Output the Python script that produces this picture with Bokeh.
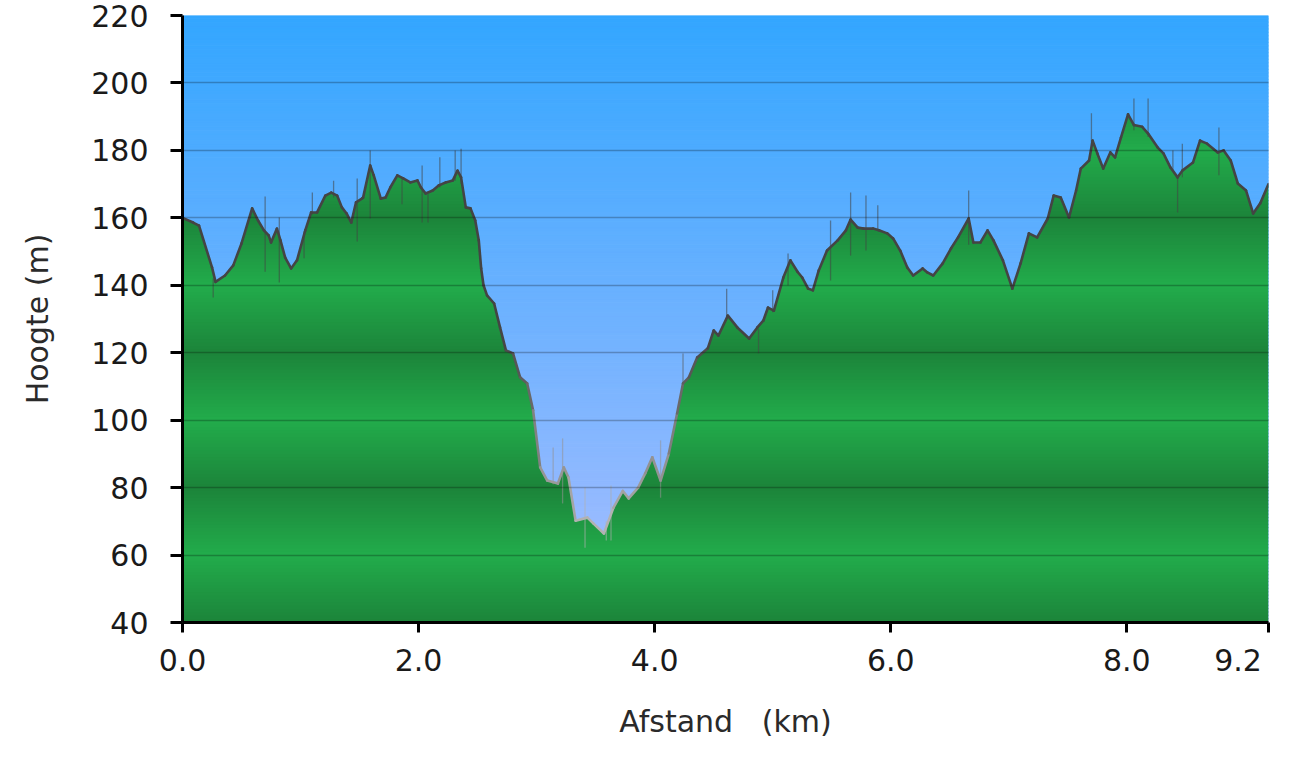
import numpy as np
from bokeh.plotting import figure
from bokeh.models import Range1d, FixedTicker, PrintfTickFormatter
from bokeh.embed import file_html
from bokeh.resources import INLINE

# ---------------- data ----------------
dist_km = [0.00, 0.09, 0.14, 0.25, 0.28, 0.36, 0.43, 0.50, 0.59, 0.64, 0.69, 0.73, 0.75, 0.80, 0.83, 0.87,
           0.92, 0.97, 1.04, 1.09, 1.14, 1.21, 1.26, 1.31, 1.35, 1.39, 1.43, 1.47, 1.52, 1.53, 1.59, 1.62,
           1.68, 1.72, 1.76, 1.82, 1.87, 1.93, 1.99, 2.02, 2.06, 2.12, 2.17, 2.23, 2.29, 2.33, 2.36, 2.40,
           2.44, 2.48, 2.51, 2.53, 2.55, 2.58, 2.64, 2.69, 2.74, 2.80, 2.86, 2.92, 2.97, 3.03, 3.09, 3.18,
           3.23, 3.27, 3.33, 3.43, 3.48, 3.57, 3.65, 3.73, 3.78, 3.86, 3.92, 3.98, 4.05, 4.12, 4.19, 4.24,
           4.29, 4.36, 4.45, 4.50, 4.54, 4.62, 4.70, 4.80, 4.87, 4.92, 4.96, 5.01, 5.09, 5.15, 5.21, 5.25,
           5.30, 5.34, 5.39, 5.46, 5.55, 5.62, 5.66, 5.72, 5.77, 5.85, 5.90, 5.97, 6.02, 6.08, 6.14, 6.19,
           6.27, 6.31, 6.36, 6.44, 6.51, 6.57, 6.66, 6.70, 6.76, 6.82, 6.87, 6.95, 7.03, 7.10, 7.17, 7.24,
           7.33, 7.38, 7.44, 7.51, 7.57, 7.61, 7.68, 7.71, 7.75, 7.80, 7.86, 7.90, 7.95, 8.01, 8.06, 8.13,
           8.18, 8.26, 8.31, 8.37, 8.43, 8.47, 8.56, 8.62, 8.68, 8.77, 8.82, 8.88, 8.94, 9.01, 9.07, 9.13,
           9.20]
elev_m = [160.0, 158.6, 157.7, 145.3, 141.0, 142.9, 145.9, 152.4, 162.8, 159.2, 156.3, 154.8, 152.7, 156.8, 153.3, 148.2,
          145.0, 147.4, 156.3, 161.6, 161.6, 166.6, 167.5, 166.6, 163.1, 161.3, 158.6, 164.6, 165.7, 166.0, 175.5, 172.6,
          165.7, 166.0, 169.0, 172.6, 171.7, 170.5, 171.1, 169.0, 167.2, 168.1, 169.6, 170.5, 171.1, 174.0, 172.0, 163.1,
          162.8, 159.2, 153.3, 145.0, 140.0, 137.0, 134.6, 127.5, 120.7, 119.8, 112.7, 110.9, 102.9, 86.0, 82.1, 81.2,
          86.0, 83.0, 70.2, 71.1, 69.4, 66.4, 74.0, 79.0, 76.8, 80.0, 84.2, 89.0, 82.1, 90.1, 102.0, 110.9,
          112.7, 118.6, 121.3, 126.6, 125.1, 131.0, 127.5, 124.2, 127.5, 129.5, 133.4, 132.5, 142.3, 147.4, 144.0, 142.3,
          139.0, 138.5, 144.4, 150.3, 153.3, 156.3, 159.5, 157.1, 156.8, 156.8, 156.3, 155.4, 153.9, 150.3, 145.3, 142.9,
          145.0, 143.8, 142.9, 146.5, 150.9, 154.2, 159.8, 152.7, 152.7, 156.3, 153.3, 147.4, 139.0, 146.5, 155.4, 154.2,
          159.8, 166.6, 166.0, 160.1, 168.1, 174.6, 177.0, 182.9, 179.1, 174.6, 179.4, 177.9, 183.8, 190.7, 187.5, 187.0,
          185.0, 180.9, 179.1, 174.9, 172.0, 174.0, 176.4, 182.9, 182.0, 179.4, 180.0, 177.0, 170.2, 168.1, 161.3, 164.3,
          170.0]

# noisy raw-data spikes (position, lowest, highest)
spike_km = [0.26, 0.70, 0.82, 1.03, 1.10, 1.28, 1.48, 1.59, 1.86, 2.03, 2.08, 2.18, 2.31, 2.36,
            3.14, 3.22, 3.41, 3.59, 3.63, 4.05, 4.24, 4.61, 4.88, 5.00, 5.13, 5.49, 5.66, 5.79,
            5.89, 6.66, 7.70, 8.06, 8.18, 8.39, 8.43, 8.47, 8.78]
spike_low = [136.4, 144.0, 140.8, 148.0, 161.0, 166.0, 153.0, 159.8, 164.0, 158.6, 158.6, 169.0, 171.0, 170.0,
             81.0, 75.3, 62.2, 64.3, 64.3, 77.0, 110.0, 130.0, 119.8, 132.0, 140.0, 141.4, 148.8, 150.3,
             156.0, 152.0, 180.0, 186.0, 184.0, 174.0, 161.6, 172.0, 172.6]
spike_high = [142.0, 166.3, 160.1, 156.0, 167.5, 171.0, 171.7, 180.0, 172.0, 175.5, 167.0, 178.0, 180.0, 180.5,
              91.9, 94.6, 80.0, 70.0, 80.6, 94.0, 119.8, 139.0, 127.0, 138.5, 149.4, 159.2, 167.5, 166.6,
              163.7, 168.1, 191.0, 195.4, 195.4, 180.0, 172.0, 182.0, 186.8]

x_ticks = [0.0, 2.0, 4.0, 6.0, 8.0, 9.2]
y_ticks = [40, 60, 80, 100, 120, 140, 160, 180, 200, 220]
x_title = "Afstand\u00a0\u00a0\u00a0(km)"
y_title = "Hoogte (m)"

X_MIN, X_MAX, Y_MIN, Y_MAX = 0.0, 9.2, 40, 220
FONT = "DejaVu Sans"

# ---------------- figure ----------------
p = figure(width=1290, height=750, output_backend="svg", toolbar_location=None,
           x_range=Range1d(X_MIN, X_MAX), y_range=Range1d(Y_MIN, Y_MAX),
           min_border_left=182, min_border_right=22, min_border_top=15, min_border_bottom=128)
p.background_fill_color = "white"
p.border_fill_color = "white"
p.outline_line_color = None


def mix(c0, c1, t):
    t = min(max(t, 0.0), 1.0)
    return "#%02x%02x%02x" % tuple(int(round(a + (b - a) * t)) for a, b in zip(c0, c1))


# sky gradient
sky_top, sky_bot = (51, 166, 255), (170, 190, 255)
levels = np.arange(Y_MIN, Y_MAX, 1.0)
sky_cols = [mix(sky_top, sky_bot, (Y_MAX - (m + 0.5)) / (Y_MAX - Y_MIN)) for m in levels]
p.quad(left=X_MIN, right=X_MAX, bottom=levels, top=levels + 1.0,
       fill_color=sky_cols, line_color=sky_cols, line_width=1)

# green gradient bands, clipped to the profile
x = np.array(dist_km, dtype=float)
y = np.array(elev_m, dtype=float)
g_dark, g_light = (28, 132, 58), (34, 172, 75)


def band(lo, hi):
    xs = [x[0]]
    for i in range(len(x) - 1):
        x0, x1, y0, y1 = x[i], x[i + 1], y[i], y[i + 1]
        cr = []
        for L in (lo, hi):
            if (y0 - L) * (y1 - L) < 0:
                cr.append(x0 + (L - y0) / (y1 - y0) * (x1 - x0))
        xs.extend(sorted(cr))
        xs.append(x1)
    xs = np.array(xs)
    ys = np.clip(np.interp(xs, x, y), lo, hi)
    return xs, ys


for m in levels:
    if y.max() <= m:
        continue
    lo, hi = m, m + 1.3
    xs, ys = band(lo, hi)
    ph = (m + 0.5 - 40) % 40
    t = abs(ph - 20) / 20.0
    p.varea(x=xs, y1=np.full(len(xs), lo), y2=ys, fill_color=mix(g_light, g_dark, t))


def line_col(v):
    return mix((68, 68, 68), (178, 178, 178), (125 - v) / 55.0)


# spikes
p.segment(x0=spike_km, y0=spike_low, x1=spike_km, y1=spike_high,
          line_color=[line_col((a + b) / 2) for a, b in zip(spike_low, spike_high)],
          line_alpha=0.55, line_width=1.3)

# profile line
mids = (y[:-1] + y[1:]) / 2
p.segment(x0=x[:-1], y0=y[:-1], x1=x[1:], y1=y[1:],
          line_color=[line_col(v) for v in mids], line_width=2.6, line_cap="round")

# grid
p.xgrid.visible = False
p.ygrid.ticker = FixedTicker(ticks=y_ticks)
p.ygrid.grid_line_color = "black"
p.ygrid.grid_line_alpha = 0.25
p.ygrid.grid_line_width = 1.5
p.ygrid.level = "overlay"

# axes
for ax in (p.xaxis[0], p.yaxis[0]):
    ax.axis_line_color = "black"
    ax.axis_line_width = 3
    ax.major_tick_line_color = "black"
    ax.major_tick_line_width = 3
    ax.major_tick_in = 0
    ax.minor_tick_line_color = None
    ax.major_label_text_font = FONT
    ax.major_label_text_font_size = "30px"
    ax.major_label_text_color = "#1a1a1a"
    ax.axis_label_text_font = FONT
    ax.axis_label_text_font_size = "30px"
    ax.axis_label_text_font_style = "normal"
    ax.axis_label_text_color = "#2a2a2a"

p.xaxis.ticker = FixedTicker(ticks=x_ticks)
p.xaxis.formatter = PrintfTickFormatter(format="%.1f")
# last label kept inside the box, as in the original
p.xaxis.major_label_overrides = {9.2: "9.2" + "\u00a0" * 3}
p.xaxis.major_tick_out = 10
p.xaxis.major_label_standoff = 10
p.xaxis.axis_label = x_title
p.xaxis.axis_label_standoff = 23

p.yaxis.ticker = FixedTicker(ticks=y_ticks)
p.yaxis.major_tick_out = 12
p.yaxis.major_label_standoff = 22
p.yaxis.axis_label = y_title
p.yaxis.axis_label_standoff = 33

open("out.html", "w").write(file_html(p, INLINE))
